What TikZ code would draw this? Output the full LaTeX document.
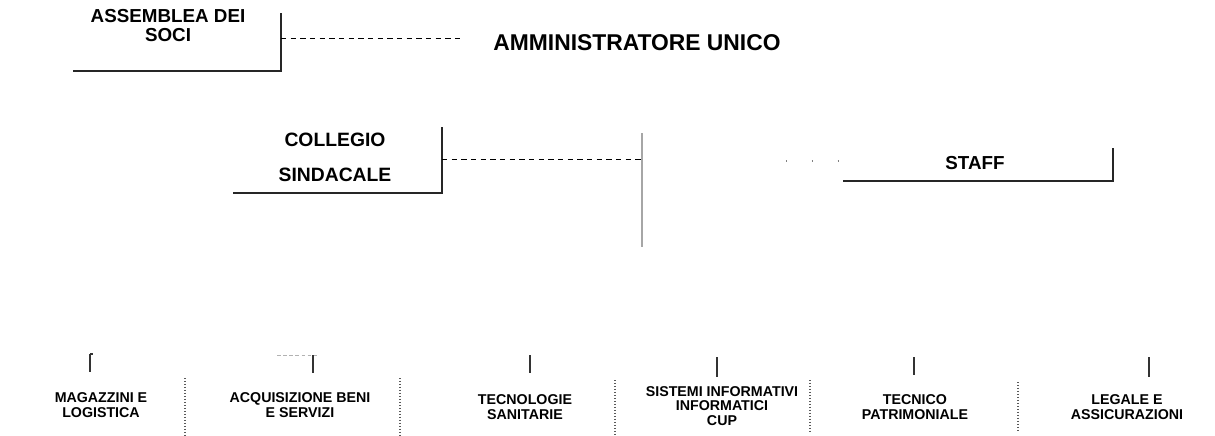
\documentclass[tikz,border=0pt]{standalone}
\usepackage{fontspec}
\setmainfont{Liberation Sans}
\usetikzlibrary{positioning}

\begin{document}
\begin{tikzpicture}[x=0.02cm, y=-0.02cm,
    box/.style={font=\bfseries\fontsize{10.7}{10.8}\selectfont, align=center, inner sep=0pt},
    unit/.style={font=\bfseries\fontsize{8.1}{8.4}\selectfont, align=center, inner sep=0pt},
    frame/.style={line width=0.6pt, black!85},
    link/.style={line width=0.5pt, dash pattern=on 3pt off 2.5pt},
    tick/.style={line width=0.7pt, black!80},
    sep/.style={line width=0.7pt, black!65, densely dotted}]
        % Margini della pagina
        \useasboundingbox (0,0) rectangle (1215,436);

        % Assemblea dei soci
        \node[box] (assemblea) at (168,26) {ASSEMBLEA DEI\\SOCI};
        \draw[frame] (73,71) -- (281,71) -- (281,13);
        \coordinate (assR) at (281,38);

        % Amministratore unico
        \node[box, font=\bfseries\fontsize{13}{14}\selectfont] (amm) at (637,43) {AMMINISTRATORE UNICO};
        \coordinate (ammL) at (460,38);
        \draw[link] (assR) -- (ammL);

        % Collegio sindacale
        \node[box, font=\bfseries\fontsize{11}{19.8}\selectfont] (collegio) at (335,157) {COLLEGIO\\SINDACALE};
        \draw[frame] (233,193) -- (442,193) -- (442,127);
        \coordinate (colR) at (442,159);

        % Linea verticale centrale
        \coordinate (trTop) at (642,133);
        \coordinate (trBot) at (642,247);
        \draw[line width=0.8pt, gray!70] (trTop) -- (trBot);
        \coordinate (trMid) at (642,159);
        \draw[link] (colR) -- (trMid);

        % Staff
        \node[box] (staff) at (975,163) {STAFF};
        \draw[frame] (843,181) -- (1113,181) -- (1113,148);
        \coordinate (stL) at (786,161);
        \coordinate (stR) at (843,161);
        \draw[line width=0.6pt, gray, dash pattern=on 0.8pt off 13.9pt] (stL) -- (stR);

        % Collegamenti verso le unita
        \foreach \x/\ya/\yb in {90/354/372, 313/355/373, 530/355/373, 717/357/377, 914/357/375, 1149/357/377}
            \draw[tick] (\x,\ya) -- (\x,\yb);
        \draw[tick] (90,354) -- (93,354);
        \draw[line width=0.4pt, gray!60, dash pattern=on 2pt off 1.5pt] (277,355) -- (317,355);

        % Separatori tra le unita
        \foreach \x/\ya/\yb in {185/378/436, 400/378/436, 615/380/436, 810/380/432, 1018/382/430}
            \draw[sep] (\x,\ya) -- (\x,\yb);

        % Unita operative
        \node[unit] (magazzini) at (101,405) {MAGAZZINI E\\LOGISTICA};
        \node[unit] (acquisizione) at (300,405) {ACQUISIZIONE BENI\\E SERVIZI};
        \node[unit] (tecnologie) at (525,407) {TECNOLOGIE\\SANITARIE};
        \node[unit] (sistemi) at (722,406) {SISTEMI INFORMATIVI\\INFORMATICI\\CUP};
        \node[unit] (tecnico) at (915,407) {TECNICO\\PATRIMONIALE};
        \node[unit] (legale) at (1127,407) {LEGALE E\\ASSICURAZIONI};
    \end{tikzpicture}
\end{document}
